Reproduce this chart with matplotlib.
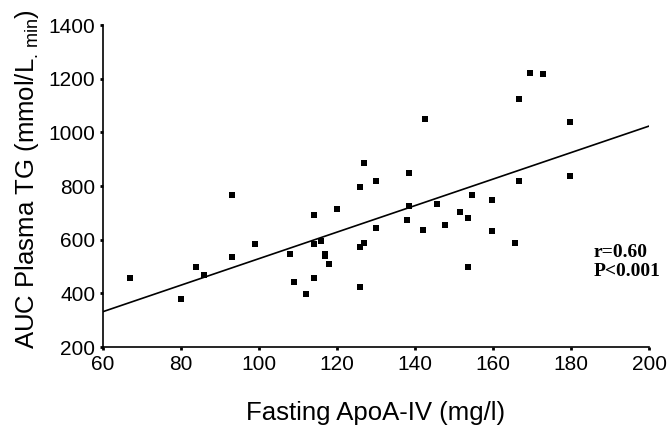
import matplotlib
matplotlib.use("Agg")
import matplotlib.pyplot as plt
import numpy as np

plt.rcParams['font.family'] = ['Liberation Sans', 'DejaVu Sans']
plt.rcParams['mathtext.fontset'] = 'custom'
plt.rcParams['mathtext.rm'] = 'Liberation Sans'
plt.rcParams['mathtext.it'] = 'Liberation Sans'

apoa4 = [67, 80, 84, 86, 93, 93, 99, 108, 109, 112, 114, 114, 114, 116, 117, 117,
         118, 120, 126, 127, 126, 127, 126, 130, 130, 138, 138.5, 138.5, 142, 142.5,
         145.7, 147.6, 151.6, 153.7, 153.7, 154.7, 159.7, 159.7, 165.6, 166.7, 166.7,
         169.6, 172.7, 179.8, 179.8]
auc_tg = [458, 379, 499, 467, 537, 765, 585, 547, 442, 396, 693, 583, 458, 597, 548, 540,
          509, 713, 797, 886, 574, 589, 423, 817, 642, 675, 847, 724, 637, 1050,
          734, 656, 705, 680, 498, 767, 748, 634, 587, 1123, 818,
          1222, 1216, 1037, 836]

xticks = [60, 80, 100, 120, 140, 160, 180, 200]
yticks = [200, 400, 600, 800, 1000, 1200, 1400]

fig = plt.figure(figsize=(6.68, 4.25), dpi=100)
ax = fig.add_axes([0.154, 0.1835, 0.8176, 0.7575])

ax.scatter(apoa4, auc_tg, marker='s', s=15, color='black', linewidths=0, zorder=3)

slope, intercept = np.polyfit(apoa4, auc_tg, 1)
xl = np.array([60, 200])
ax.plot(xl, slope * xl + intercept, color='black', lw=1.2)

ax.set_xlim(60, 200)
ax.set_ylim(200, 1400)
ax.set_xticks(xticks)
ax.set_yticks(yticks)
ax.tick_params(labelsize=15, length=2.5, width=2, direction='out', pad=3)
for s in ['top', 'right']:
    ax.spines[s].set_visible(False)
for s in ['left', 'bottom']:
    ax.spines[s].set_linewidth(1.2)

ax.set_xlabel('Fasting ApoA-IV (mg/l)', fontsize=18.5, labelpad=20)
ax.set_ylabel(r'AUC Plasma TG (mmol/L$_{.\,\mathrm{min}}$)', fontsize=18.5)
ax.yaxis.set_label_coords(-0.113, 0.522)

ax.text(0.899, 0.32, 'r=0.60\nP<0.001', transform=ax.transAxes, fontsize=14,
        fontweight='bold', family=['Liberation Serif'], ha='left', va='top',
        linespacing=1.15, clip_on=False)

fig.savefig('out.png', dpi=100)
